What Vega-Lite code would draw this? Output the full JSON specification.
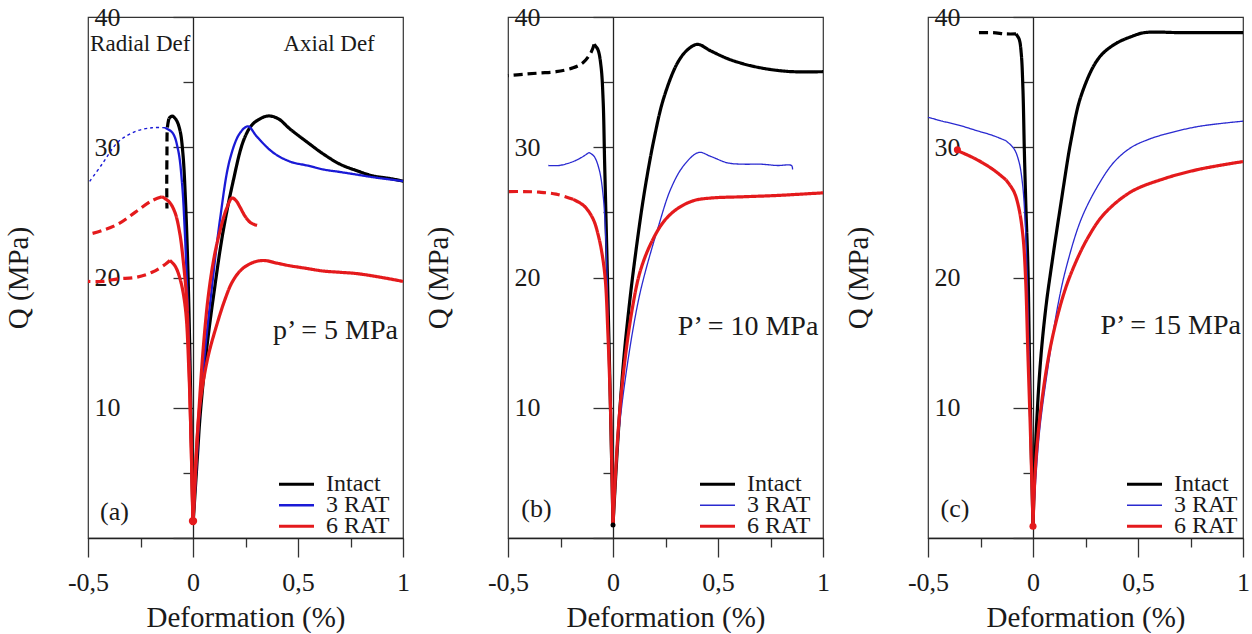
{
  "$schema": "https://vega.github.io/schema/vega-lite/v6.json",
  "padding": {"left": 3, "top": 3, "right": 5, "bottom": 0},
  "datasets": {
    "a": [
      {"s":"Intact","g":"I-ax","part":"axial","x":0,"q":1},{"s":"Intact","g":"I-ax","part":"axial","x":0.02,"q":6},{"s":"Intact","g":"I-ax","part":"axial","x":0.035,"q":9.6},{"s":"Intact","g":"I-ax","part":"axial","x":0.065,"q":14.5},{"s":"Intact","g":"I-ax","part":"axial","x":0.097,"q":18.5},{"s":"Intact","g":"I-ax","part":"axial","x":0.143,"q":23.5},{"s":"Intact","g":"I-ax","part":"axial","x":0.19,"q":27.3},{"s":"Intact","g":"I-ax","part":"axial","x":0.238,"q":30.4},{"s":"Intact","g":"I-ax","part":"axial","x":0.275,"q":31.6},{"s":"Intact","g":"I-ax","part":"axial","x":0.31,"q":32.1},{"s":"Intact","g":"I-ax","part":"axial","x":0.357,"q":32.4},{"s":"Intact","g":"I-ax","part":"axial","x":0.405,"q":32.2},{"s":"Intact","g":"I-ax","part":"axial","x":0.462,"q":31.4},{"s":"Intact","g":"I-ax","part":"axial","x":0.543,"q":30.4},{"s":"Intact","g":"I-ax","part":"axial","x":0.619,"q":29.5},{"s":"Intact","g":"I-ax","part":"axial","x":0.7,"q":28.7},{"s":"Intact","g":"I-ax","part":"axial","x":0.78,"q":28.2},{"s":"Intact","g":"I-ax","part":"axial","x":0.857,"q":27.8},{"s":"Intact","g":"I-ax","part":"axial","x":0.938,"q":27.6},{"s":"Intact","g":"I-ax","part":"axial","x":1,"q":27.4},
      {"s":"Intact","g":"I-r1","part":"near","x":0,"q":1},{"s":"Intact","g":"I-r1","part":"near","x":-0.008,"q":8},{"s":"Intact","g":"I-r1","part":"near","x":-0.016,"q":15},{"s":"Intact","g":"I-r1","part":"near","x":-0.025,"q":21},{"s":"Intact","g":"I-r1","part":"near","x":-0.036,"q":26},{"s":"Intact","g":"I-r1","part":"near","x":-0.048,"q":29.5},{"s":"Intact","g":"I-r1","part":"near","x":-0.062,"q":31.3},{"s":"Intact","g":"I-r1","part":"near","x":-0.08,"q":32.1},{"s":"Intact","g":"I-r1","part":"near","x":-0.1,"q":32.4},{"s":"Intact","g":"I-r1","part":"near","x":-0.115,"q":32.2},
      {"s":"Intact","g":"I-r2","part":"far","x":-0.115,"q":32.2},{"s":"Intact","g":"I-r2","part":"far","x":-0.122,"q":31.5},{"s":"Intact","g":"I-r2","part":"far","x":-0.124,"q":29.5},{"s":"Intact","g":"I-r2","part":"far","x":-0.125,"q":27},{"s":"Intact","g":"I-r2","part":"far","x":-0.124,"q":25.3},
      {"s":"3 RAT","g":"B-ax","part":"axial","x":0,"q":1},{"s":"3 RAT","g":"B-ax","part":"axial","x":0.018,"q":6},{"s":"3 RAT","g":"B-ax","part":"axial","x":0.031,"q":9.6},{"s":"3 RAT","g":"B-ax","part":"axial","x":0.058,"q":14.5},{"s":"3 RAT","g":"B-ax","part":"axial","x":0.087,"q":18.8},{"s":"3 RAT","g":"B-ax","part":"axial","x":0.129,"q":24.5},{"s":"3 RAT","g":"B-ax","part":"axial","x":0.176,"q":29.1},{"s":"3 RAT","g":"B-ax","part":"axial","x":0.224,"q":31.1},{"s":"3 RAT","g":"B-ax","part":"axial","x":0.262,"q":31.6},{"s":"3 RAT","g":"B-ax","part":"axial","x":0.305,"q":30.8},{"s":"3 RAT","g":"B-ax","part":"axial","x":0.381,"q":29.6},{"s":"3 RAT","g":"B-ax","part":"axial","x":0.462,"q":28.9},{"s":"3 RAT","g":"B-ax","part":"axial","x":0.543,"q":28.6},{"s":"3 RAT","g":"B-ax","part":"axial","x":0.619,"q":28.3},{"s":"3 RAT","g":"B-ax","part":"axial","x":0.7,"q":28.1},{"s":"3 RAT","g":"B-ax","part":"axial","x":0.78,"q":27.9},{"s":"3 RAT","g":"B-ax","part":"axial","x":0.857,"q":27.7},{"s":"3 RAT","g":"B-ax","part":"axial","x":1,"q":27.4},
      {"s":"3 RAT","g":"B-r1","part":"near","x":0,"q":1},{"s":"3 RAT","g":"B-r1","part":"near","x":-0.01,"q":8},{"s":"3 RAT","g":"B-r1","part":"near","x":-0.02,"q":15},{"s":"3 RAT","g":"B-r1","part":"near","x":-0.03,"q":20},{"s":"3 RAT","g":"B-r1","part":"near","x":-0.039,"q":23.5},{"s":"3 RAT","g":"B-r1","part":"near","x":-0.052,"q":27.2},{"s":"3 RAT","g":"B-r1","part":"near","x":-0.071,"q":29.8},{"s":"3 RAT","g":"B-r1","part":"near","x":-0.097,"q":31.1},{"s":"3 RAT","g":"B-r1","part":"near","x":-0.133,"q":31.5},
      {"s":"3 RAT","g":"B-r2","part":"far","x":-0.133,"q":31.5},{"s":"3 RAT","g":"B-r2","part":"far","x":-0.195,"q":31.5},{"s":"3 RAT","g":"B-r2","part":"far","x":-0.276,"q":31.2},{"s":"3 RAT","g":"B-r2","part":"far","x":-0.357,"q":30.4},{"s":"3 RAT","g":"B-r2","part":"far","x":-0.433,"q":28.7},{"s":"3 RAT","g":"B-r2","part":"far","x":-0.5,"q":27.2},
      {"s":"6 RAT","g":"R1-ax","part":"axial","x":0,"q":1},{"s":"6 RAT","g":"R1-ax","part":"axial","x":0.015,"q":6},{"s":"6 RAT","g":"R1-ax","part":"axial","x":0.029,"q":10},{"s":"6 RAT","g":"R1-ax","part":"axial","x":0.05,"q":14.8},{"s":"6 RAT","g":"R1-ax","part":"axial","x":0.073,"q":18.6},{"s":"6 RAT","g":"R1-ax","part":"axial","x":0.1,"q":21.5},{"s":"6 RAT","g":"R1-ax","part":"axial","x":0.129,"q":23.6},{"s":"6 RAT","g":"R1-ax","part":"axial","x":0.16,"q":25.3},{"s":"6 RAT","g":"R1-ax","part":"axial","x":0.186,"q":26.1},{"s":"6 RAT","g":"R1-ax","part":"axial","x":0.205,"q":25.9},{"s":"6 RAT","g":"R1-ax","part":"axial","x":0.224,"q":25.4},{"s":"6 RAT","g":"R1-ax","part":"axial","x":0.248,"q":24.7},{"s":"6 RAT","g":"R1-ax","part":"axial","x":0.275,"q":24.2},{"s":"6 RAT","g":"R1-ax","part":"axial","x":0.305,"q":24},
      {"s":"6 RAT","g":"R1-r1","part":"near","x":0,"q":1},{"s":"6 RAT","g":"R1-r1","part":"near","x":-0.01,"q":8},{"s":"6 RAT","g":"R1-r1","part":"near","x":-0.02,"q":14},{"s":"6 RAT","g":"R1-r1","part":"near","x":-0.03,"q":18.3},{"s":"6 RAT","g":"R1-r1","part":"near","x":-0.046,"q":21.2},{"s":"6 RAT","g":"R1-r1","part":"near","x":-0.063,"q":23.4},{"s":"6 RAT","g":"R1-r1","part":"near","x":-0.086,"q":25},{"s":"6 RAT","g":"R1-r1","part":"near","x":-0.113,"q":25.8},{"s":"6 RAT","g":"R1-r1","part":"near","x":-0.148,"q":26.2},
      {"s":"6 RAT","g":"R1-r2","part":"far","x":-0.148,"q":26.2},{"s":"6 RAT","g":"R1-r2","part":"far","x":-0.195,"q":25.9},{"s":"6 RAT","g":"R1-r2","part":"far","x":-0.276,"q":25},{"s":"6 RAT","g":"R1-r2","part":"far","x":-0.357,"q":24.1},{"s":"6 RAT","g":"R1-r2","part":"far","x":-0.433,"q":23.6},{"s":"6 RAT","g":"R1-r2","part":"far","x":-0.5,"q":23.3},
      {"s":"6 RAT","g":"R2-ax","part":"axial","x":0,"q":1},{"s":"6 RAT","g":"R2-ax","part":"axial","x":0.012,"q":5.5},{"s":"6 RAT","g":"R2-ax","part":"axial","x":0.033,"q":10.2},{"s":"6 RAT","g":"R2-ax","part":"axial","x":0.07,"q":13.8},{"s":"6 RAT","g":"R2-ax","part":"axial","x":0.114,"q":16.4},{"s":"6 RAT","g":"R2-ax","part":"axial","x":0.152,"q":18.3},{"s":"6 RAT","g":"R2-ax","part":"axial","x":0.185,"q":19.6},{"s":"6 RAT","g":"R2-ax","part":"axial","x":0.224,"q":20.5},{"s":"6 RAT","g":"R2-ax","part":"axial","x":0.265,"q":21},{"s":"6 RAT","g":"R2-ax","part":"axial","x":0.305,"q":21.25},{"s":"6 RAT","g":"R2-ax","part":"axial","x":0.343,"q":21.3},{"s":"6 RAT","g":"R2-ax","part":"axial","x":0.4,"q":21.1},{"s":"6 RAT","g":"R2-ax","part":"axial","x":0.462,"q":20.9},{"s":"6 RAT","g":"R2-ax","part":"axial","x":0.54,"q":20.7},{"s":"6 RAT","g":"R2-ax","part":"axial","x":0.619,"q":20.5},{"s":"6 RAT","g":"R2-ax","part":"axial","x":0.7,"q":20.4},{"s":"6 RAT","g":"R2-ax","part":"axial","x":0.78,"q":20.3},{"s":"6 RAT","g":"R2-ax","part":"axial","x":0.9,"q":20},{"s":"6 RAT","g":"R2-ax","part":"axial","x":1,"q":19.7},
      {"s":"6 RAT","g":"R2-r1","part":"near","x":0,"q":1},{"s":"6 RAT","g":"R2-r1","part":"near","x":-0.01,"q":8},{"s":"6 RAT","g":"R2-r1","part":"near","x":-0.02,"q":13},{"s":"6 RAT","g":"R2-r1","part":"near","x":-0.036,"q":17.6},{"s":"6 RAT","g":"R2-r1","part":"near","x":-0.06,"q":19.8},{"s":"6 RAT","g":"R2-r1","part":"near","x":-0.086,"q":20.9},{"s":"6 RAT","g":"R2-r1","part":"near","x":-0.11,"q":21.3},
      {"s":"6 RAT","g":"R2-r2","part":"far","x":-0.11,"q":21.3},{"s":"6 RAT","g":"R2-r2","part":"far","x":-0.133,"q":21},{"s":"6 RAT","g":"R2-r2","part":"far","x":-0.195,"q":20.4},{"s":"6 RAT","g":"R2-r2","part":"far","x":-0.276,"q":20},{"s":"6 RAT","g":"R2-r2","part":"far","x":-0.357,"q":19.9},{"s":"6 RAT","g":"R2-r2","part":"far","x":-0.433,"q":19.7},{"s":"6 RAT","g":"R2-r2","part":"far","x":-0.5,"q":19.7}
    ],
    "b": [
      {"s":"Intact","g":"I-ax","part":"axial","x":0,"q":1},{"s":"Intact","g":"I-ax","part":"axial","x":0.025,"q":8},{"s":"Intact","g":"I-ax","part":"axial","x":0.05,"q":13.5},{"s":"Intact","g":"I-ax","part":"axial","x":0.075,"q":17.5},{"s":"Intact","g":"I-ax","part":"axial","x":0.1,"q":20.9},{"s":"Intact","g":"I-ax","part":"axial","x":0.147,"q":26.3},{"s":"Intact","g":"I-ax","part":"axial","x":0.195,"q":30.6},{"s":"Intact","g":"I-ax","part":"axial","x":0.242,"q":33.8},{"s":"Intact","g":"I-ax","part":"axial","x":0.308,"q":36.5},{"s":"Intact","g":"I-ax","part":"axial","x":0.356,"q":37.5},{"s":"Intact","g":"I-ax","part":"axial","x":0.403,"q":37.9},{"s":"Intact","g":"I-ax","part":"axial","x":0.465,"q":37.4},{"s":"Intact","g":"I-ax","part":"axial","x":0.546,"q":36.8},{"s":"Intact","g":"I-ax","part":"axial","x":0.622,"q":36.4},{"s":"Intact","g":"I-ax","part":"axial","x":0.702,"q":36.1},{"s":"Intact","g":"I-ax","part":"axial","x":0.783,"q":35.9},{"s":"Intact","g":"I-ax","part":"axial","x":0.859,"q":35.8},{"s":"Intact","g":"I-ax","part":"axial","x":1,"q":35.8},
      {"s":"Intact","g":"I-r1","part":"near","x":0,"q":1},{"s":"Intact","g":"I-r1","part":"near","x":-0.012,"q":10},{"s":"Intact","g":"I-r1","part":"near","x":-0.022,"q":17},{"s":"Intact","g":"I-r1","part":"near","x":-0.032,"q":23.7},{"s":"Intact","g":"I-r1","part":"near","x":-0.04,"q":28.9},{"s":"Intact","g":"I-r1","part":"near","x":-0.047,"q":33.6},{"s":"Intact","g":"I-r1","part":"near","x":-0.057,"q":36.2},{"s":"Intact","g":"I-r1","part":"near","x":-0.072,"q":37.5},{"s":"Intact","g":"I-r1","part":"near","x":-0.09,"q":37.9},
      {"s":"Intact","g":"I-r2","part":"far","x":-0.09,"q":37.9},{"s":"Intact","g":"I-r2","part":"far","x":-0.104,"q":37.3},{"s":"Intact","g":"I-r2","part":"far","x":-0.142,"q":36.5},{"s":"Intact","g":"I-r2","part":"far","x":-0.19,"q":36.1},{"s":"Intact","g":"I-r2","part":"far","x":-0.271,"q":35.8},{"s":"Intact","g":"I-r2","part":"far","x":-0.351,"q":35.7},{"s":"Intact","g":"I-r2","part":"far","x":-0.427,"q":35.6},{"s":"Intact","g":"I-r2","part":"far","x":-0.5,"q":35.5},
      {"s":"3 RAT","g":"B-ax","part":"axial","x":0,"q":1},{"s":"3 RAT","g":"B-ax","part":"axial","x":0.028,"q":8.1},{"s":"3 RAT","g":"B-ax","part":"axial","x":0.071,"q":13.6},{"s":"3 RAT","g":"B-ax","part":"axial","x":0.118,"q":18},{"s":"3 RAT","g":"B-ax","part":"axial","x":0.15,"q":20.2},{"s":"3 RAT","g":"B-ax","part":"axial","x":0.214,"q":23.8},{"s":"3 RAT","g":"B-ax","part":"axial","x":0.275,"q":26.8},{"s":"3 RAT","g":"B-ax","part":"axial","x":0.337,"q":28.6},{"s":"3 RAT","g":"B-ax","part":"axial","x":0.408,"q":29.6},{"s":"3 RAT","g":"B-ax","part":"axial","x":0.465,"q":29.3},{"s":"3 RAT","g":"B-ax","part":"axial","x":0.546,"q":28.8},{"s":"3 RAT","g":"B-ax","part":"axial","x":0.622,"q":28.7},{"s":"3 RAT","g":"B-ax","part":"axial","x":0.702,"q":28.7},{"s":"3 RAT","g":"B-ax","part":"axial","x":0.783,"q":28.6},{"s":"3 RAT","g":"B-ax","part":"axial","x":0.85,"q":28.6},{"s":"3 RAT","g":"B-ax","part":"axial","x":0.855,"q":28.3},
      {"s":"3 RAT","g":"B-r1","part":"near","x":0,"q":1},{"s":"3 RAT","g":"B-r1","part":"near","x":-0.012,"q":10},{"s":"3 RAT","g":"B-r1","part":"near","x":-0.022,"q":16},{"s":"3 RAT","g":"B-r1","part":"near","x":-0.033,"q":22.4},{"s":"3 RAT","g":"B-r1","part":"near","x":-0.047,"q":26.3},{"s":"3 RAT","g":"B-r1","part":"near","x":-0.066,"q":28.3},{"s":"3 RAT","g":"B-r1","part":"near","x":-0.09,"q":29.3},{"s":"3 RAT","g":"B-r1","part":"near","x":-0.114,"q":29.6},
      {"s":"3 RAT","g":"B-r2","part":"far","x":-0.114,"q":29.6},{"s":"3 RAT","g":"B-r2","part":"far","x":-0.152,"q":29.2},{"s":"3 RAT","g":"B-r2","part":"far","x":-0.19,"q":28.9},{"s":"3 RAT","g":"B-r2","part":"far","x":-0.256,"q":28.6},{"s":"3 RAT","g":"B-r2","part":"far","x":-0.308,"q":28.6},
      {"s":"6 RAT","g":"R-ax","part":"axial","x":0,"q":1},{"s":"6 RAT","g":"R-ax","part":"axial","x":0.024,"q":8.1},{"s":"6 RAT","g":"R-ax","part":"axial","x":0.055,"q":13.4},{"s":"6 RAT","g":"R-ax","part":"axial","x":0.095,"q":17.9},{"s":"6 RAT","g":"R-ax","part":"axial","x":0.13,"q":20.5},{"s":"6 RAT","g":"R-ax","part":"axial","x":0.18,"q":22.6},{"s":"6 RAT","g":"R-ax","part":"axial","x":0.242,"q":24.3},{"s":"6 RAT","g":"R-ax","part":"axial","x":0.308,"q":25.3},{"s":"6 RAT","g":"R-ax","part":"axial","x":0.384,"q":25.9},{"s":"6 RAT","g":"R-ax","part":"axial","x":0.465,"q":26.1},{"s":"6 RAT","g":"R-ax","part":"axial","x":0.622,"q":26.2},{"s":"6 RAT","g":"R-ax","part":"axial","x":0.783,"q":26.3},{"s":"6 RAT","g":"R-ax","part":"axial","x":1,"q":26.5},
      {"s":"6 RAT","g":"R-r1","part":"near","x":0,"q":1},{"s":"6 RAT","g":"R-r1","part":"near","x":-0.012,"q":10},{"s":"6 RAT","g":"R-r1","part":"near","x":-0.025,"q":16},{"s":"6 RAT","g":"R-r1","part":"near","x":-0.036,"q":19.7},{"s":"6 RAT","g":"R-r1","part":"near","x":-0.049,"q":21.5},{"s":"6 RAT","g":"R-r1","part":"near","x":-0.068,"q":23.1},{"s":"6 RAT","g":"R-r1","part":"near","x":-0.095,"q":24.5},{"s":"6 RAT","g":"R-r1","part":"near","x":-0.138,"q":25.5},{"s":"6 RAT","g":"R-r1","part":"near","x":-0.19,"q":26},
      {"s":"6 RAT","g":"R-r2","part":"far","x":-0.19,"q":26},{"s":"6 RAT","g":"R-r2","part":"far","x":-0.271,"q":26.4},{"s":"6 RAT","g":"R-r2","part":"far","x":-0.351,"q":26.55},{"s":"6 RAT","g":"R-r2","part":"far","x":-0.427,"q":26.6},{"s":"6 RAT","g":"R-r2","part":"far","x":-0.5,"q":26.6}
    ],
    "c": [
      {"s":"Intact","g":"I-ax","part":"axial","x":0,"q":1},{"s":"Intact","g":"I-ax","part":"axial","x":0.015,"q":8},{"s":"Intact","g":"I-ax","part":"axial","x":0.036,"q":13.6},{"s":"Intact","g":"I-ax","part":"axial","x":0.062,"q":17.8},{"s":"Intact","g":"I-ax","part":"axial","x":0.092,"q":21.3},{"s":"Intact","g":"I-ax","part":"axial","x":0.134,"q":25.8},{"s":"Intact","g":"I-ax","part":"axial","x":0.182,"q":30.6},{"s":"Intact","g":"I-ax","part":"axial","x":0.23,"q":34},{"s":"Intact","g":"I-ax","part":"axial","x":0.311,"q":36.8},{"s":"Intact","g":"I-ax","part":"axial","x":0.388,"q":37.9},{"s":"Intact","g":"I-ax","part":"axial","x":0.469,"q":38.5},{"s":"Intact","g":"I-ax","part":"axial","x":0.531,"q":38.8},{"s":"Intact","g":"I-ax","part":"axial","x":0.708,"q":38.8},{"s":"Intact","g":"I-ax","part":"axial","x":1,"q":38.8},
      {"s":"Intact","g":"I-r1","part":"near","x":0,"q":1},{"s":"Intact","g":"I-r1","part":"near","x":-0.01,"q":8},{"s":"Intact","g":"I-r1","part":"near","x":-0.017,"q":14},{"s":"Intact","g":"I-r1","part":"near","x":-0.024,"q":20.7},{"s":"Intact","g":"I-r1","part":"near","x":-0.033,"q":25},{"s":"Intact","g":"I-r1","part":"near","x":-0.041,"q":29.6},{"s":"Intact","g":"I-r1","part":"near","x":-0.048,"q":34.5},{"s":"Intact","g":"I-r1","part":"near","x":-0.056,"q":37.2},{"s":"Intact","g":"I-r1","part":"near","x":-0.066,"q":38.3},{"s":"Intact","g":"I-r1","part":"near","x":-0.081,"q":38.7},
      {"s":"Intact","g":"I-r2","part":"far","x":-0.081,"q":38.7},{"s":"Intact","g":"I-r2","part":"far","x":-0.129,"q":38.7},{"s":"Intact","g":"I-r2","part":"far","x":-0.191,"q":38.8},{"s":"Intact","g":"I-r2","part":"far","x":-0.258,"q":38.8},
      {"s":"3 RAT","g":"B-ax","part":"axial","x":0,"q":1},{"s":"3 RAT","g":"B-ax","part":"axial","x":0.03,"q":8},{"s":"3 RAT","g":"B-ax","part":"axial","x":0.075,"q":13.5},{"s":"3 RAT","g":"B-ax","part":"axial","x":0.12,"q":18},{"s":"3 RAT","g":"B-ax","part":"axial","x":0.162,"q":21},{"s":"3 RAT","g":"B-ax","part":"axial","x":0.23,"q":24.5},{"s":"3 RAT","g":"B-ax","part":"axial","x":0.311,"q":27.1},{"s":"3 RAT","g":"B-ax","part":"axial","x":0.388,"q":28.9},{"s":"3 RAT","g":"B-ax","part":"axial","x":0.469,"q":30},{"s":"3 RAT","g":"B-ax","part":"axial","x":0.55,"q":30.6},{"s":"3 RAT","g":"B-ax","part":"axial","x":0.627,"q":31},{"s":"3 RAT","g":"B-ax","part":"axial","x":0.789,"q":31.6},{"s":"3 RAT","g":"B-ax","part":"axial","x":1,"q":32},
      {"s":"3 RAT","g":"B-r1","part":"near","x":0,"q":1},{"s":"3 RAT","g":"B-r1","part":"near","x":-0.01,"q":8},{"s":"3 RAT","g":"B-r1","part":"near","x":-0.02,"q":15},{"s":"3 RAT","g":"B-r1","part":"near","x":-0.029,"q":20.7},{"s":"3 RAT","g":"B-r1","part":"near","x":-0.038,"q":24.5},{"s":"3 RAT","g":"B-r1","part":"near","x":-0.05,"q":27.2},{"s":"3 RAT","g":"B-r1","part":"near","x":-0.067,"q":28.9},{"s":"3 RAT","g":"B-r1","part":"near","x":-0.091,"q":29.9},{"s":"3 RAT","g":"B-r1","part":"near","x":-0.129,"q":30.5},
      {"s":"3 RAT","g":"B-r2","part":"far","x":-0.129,"q":30.5},{"s":"3 RAT","g":"B-r2","part":"far","x":-0.191,"q":30.9},{"s":"3 RAT","g":"B-r2","part":"far","x":-0.273,"q":31.3},{"s":"3 RAT","g":"B-r2","part":"far","x":-0.354,"q":31.7},{"s":"3 RAT","g":"B-r2","part":"far","x":-0.431,"q":32},{"s":"3 RAT","g":"B-r2","part":"far","x":-0.5,"q":32.3},
      {"s":"6 RAT","g":"R-ax","part":"axial","x":0,"q":1},{"s":"6 RAT","g":"R-ax","part":"axial","x":0.012,"q":5.5},{"s":"6 RAT","g":"R-ax","part":"axial","x":0.035,"q":9.6},{"s":"6 RAT","g":"R-ax","part":"axial","x":0.081,"q":14.5},{"s":"6 RAT","g":"R-ax","part":"axial","x":0.14,"q":18.4},{"s":"6 RAT","g":"R-ax","part":"axial","x":0.191,"q":20.7},{"s":"6 RAT","g":"R-ax","part":"axial","x":0.263,"q":23.1},{"s":"6 RAT","g":"R-ax","part":"axial","x":0.34,"q":24.9},{"s":"6 RAT","g":"R-ax","part":"axial","x":0.469,"q":26.6},{"s":"6 RAT","g":"R-ax","part":"axial","x":0.627,"q":27.6},{"s":"6 RAT","g":"R-ax","part":"axial","x":0.789,"q":28.3},{"s":"6 RAT","g":"R-ax","part":"axial","x":1,"q":28.9},
      {"s":"6 RAT","g":"R-r1","part":"near","x":0,"q":1},{"s":"6 RAT","g":"R-r1","part":"near","x":-0.012,"q":8},{"s":"6 RAT","g":"R-r1","part":"near","x":-0.024,"q":14},{"s":"6 RAT","g":"R-r1","part":"near","x":-0.036,"q":20.2},{"s":"6 RAT","g":"R-r1","part":"near","x":-0.048,"q":23.2},{"s":"6 RAT","g":"R-r1","part":"near","x":-0.067,"q":25.3},{"s":"6 RAT","g":"R-r1","part":"near","x":-0.091,"q":26.6},{"s":"6 RAT","g":"R-r1","part":"near","x":-0.129,"q":27.5},
      {"s":"6 RAT","g":"R-r2","part":"far","x":-0.129,"q":27.5},{"s":"6 RAT","g":"R-r2","part":"far","x":-0.191,"q":28.3},{"s":"6 RAT","g":"R-r2","part":"far","x":-0.273,"q":29.1},{"s":"6 RAT","g":"R-r2","part":"far","x":-0.354,"q":29.7}
    ],
    "pts": [
      {"panel":"a","s":"6 RAT","x":0,"q":1.3},
      {"panel":"b","s":"Intact","x":0,"q":1},
      {"panel":"c","s":"6 RAT","x":0,"q":0.9},
      {"panel":"c","s":"6 RAT","x":-0.36,"q":29.8}
    ]
  },
  "hconcat": [
    {
      "width": 315, "height": 521,
      "data": {"name": "a"},
      "layer": [
        {
          "mark": {"type": "line", "strokeJoin": "round", "strokeCap": "butt", "interpolate": "catmull-rom"},
          "encoding": {
            "x": {"field": "x", "type": "quantitative", "scale": {"domain": [-0.5, 1], "nice": false, "zero": false},
              "axis": {"values": [-0.5,-0.375,-0.25,-0.125,0,0.125,0.25,0.375,0.5,0.625,0.75,0.875,1], "labelExpr": "datum.value % 0.5 === 0 ? replace('' + datum.value, '.', ',') : ''", "tickSize": {"condition": {"test": "datum.value % 0.5 === 0", "value": 19}, "value": 9}, "title": "Deformation (%)", "labelPadding": 12, "titlePadding": 8}},
            "y": {"field": "q", "type": "quantitative", "scale": {"domain": [0, 40], "nice": false},
              "axis": {"values": [0,2.5,5,7.5,10,12.5,15,17.5,20,22.5,25,27.5,30,32.5,35,37.5,40], "offset": -105, "labelExpr": "datum.value % 10 === 0 && datum.value > 0 ? datum.label : ''", "tickSize": {"condition": {"test": "datum.value % 10 === 0", "value": 20}, "value": 10}, "labelPadding": 53, "title": "Q (MPa)", "titleX": -160}},
            "color": {"field": "s", "type": "nominal", "scale": {"domain": ["Intact","3 RAT","6 RAT"], "range": ["#000000","#1a1ad6","#e41a1c"]}, "legend": {"title": null, "symbolType": "stroke", "orient": "none", "legendX": 189, "legendY": 459}},
            "strokeWidth": {"condition": {"test": "datum.part === 'far' && datum.s === '3 RAT'", "value": 1.4}, "field": "s", "type": "nominal", "scale": {"type": "ordinal", "domain": ["Intact","3 RAT","6 RAT"], "range": [3.2, 2.3, 3.2]}, "legend": {"title": null, "symbolType": "stroke", "orient": "none", "legendX": 189, "legendY": 459}},
            "strokeDash": {"condition": [{"test": "datum.part === 'far' && datum.s === '3 RAT'", "value": [3, 3]}, {"test": "datum.part === 'far'", "value": [9, 5]}], "value": [1, 0]},
            "detail": {"field": "g"},
            "order": {"value": null}
          }
        },
        {
          "data": {"name": "pts"}, "transform": [{"filter": "datum.panel === 'a'"}],
          "mark": {"type": "circle", "size": 70, "opacity": 1, "color": "#e41a1c"},
          "encoding": {"x": {"field": "x", "type": "quantitative"}, "y": {"field": "q", "type": "quantitative"}}
        },
        {"data": {"values": [{}]}, "mark": {"type": "text", "align": "left", "baseline": "middle", "fontSize": 23}, "encoding": {"x": {"datum": -0.49}, "y": {"datum": 37.95}, "text": {"value": "Radial Def"}}},
        {"data": {"values": [{}]}, "mark": {"type": "text", "align": "center", "baseline": "middle", "fontSize": 23}, "encoding": {"x": {"datum": 0.648}, "y": {"datum": 37.95}, "text": {"value": "Axial Def"}}},
        {"data": {"values": [{}]}, "mark": {"type": "text", "align": "right", "baseline": "middle", "fontSize": 28}, "encoding": {"x": {"datum": 0.976}, "y": {"datum": 15.9}, "text": {"value": "p’ = 5 MPa"}}},
        {"data": {"values": [{}]}, "mark": {"type": "text", "align": "left", "baseline": "middle", "fontSize": 26}, "encoding": {"x": {"datum": -0.443}, "y": {"datum": 2.0}, "text": {"value": "(a)"}}}
      ]
    },
    {
      "width": 315, "height": 521,
      "data": {"name": "b"},
      "layer": [
        {
          "mark": {"type": "line", "strokeJoin": "round", "strokeCap": "butt", "interpolate": "catmull-rom"},
          "encoding": {
            "x": {"field": "x", "type": "quantitative", "scale": {"domain": [-0.5, 1], "nice": false, "zero": false},
              "axis": {"values": [-0.5,-0.375,-0.25,-0.125,0,0.125,0.25,0.375,0.5,0.625,0.75,0.875,1], "labelExpr": "datum.value % 0.5 === 0 ? replace('' + datum.value, '.', ',') : ''", "tickSize": {"condition": {"test": "datum.value % 0.5 === 0", "value": 19}, "value": 9}, "title": "Deformation (%)", "labelPadding": 12, "titlePadding": 8}},
            "y": {"field": "q", "type": "quantitative", "scale": {"domain": [0, 40], "nice": false},
              "axis": {"values": [0,2.5,5,7.5,10,12.5,15,17.5,20,22.5,25,27.5,30,32.5,35,37.5,40], "offset": -105, "labelExpr": "datum.value % 10 === 0 && datum.value > 0 ? datum.label : ''", "tickSize": {"condition": {"test": "datum.value % 10 === 0", "value": 20}, "value": 10}, "labelPadding": 53, "title": "Q (MPa)", "titleX": -160}},
            "color": {"field": "s", "type": "nominal", "scale": {"domain": ["Intact","3 RAT","6 RAT"], "range": ["#000000","#2a2ad0","#e41a1c"]}, "legend": {"title": null, "symbolType": "stroke", "orient": "none", "legendX": 190, "legendY": 459}},
            "strokeWidth": {"field": "s", "type": "nominal", "scale": {"type": "ordinal", "domain": ["Intact","3 RAT","6 RAT"], "range": [3.2, 1.3, 3.2]}, "legend": {"title": null, "symbolType": "stroke", "orient": "none", "legendX": 190, "legendY": 459}},
            "strokeDash": {"condition": {"test": "datum.part === 'far' && datum.s !== '3 RAT'", "value": [9, 5]}, "value": [1, 0]},
            "detail": {"field": "g"},
            "order": {"value": null}
          }
        },
        {
          "data": {"name": "pts"}, "transform": [{"filter": "datum.panel === 'b'"}],
          "mark": {"type": "circle", "size": 25, "opacity": 1, "color": "#000000"},
          "encoding": {"x": {"field": "x", "type": "quantitative"}, "y": {"field": "q", "type": "quantitative"}}
        },
        {"data": {"values": [{}]}, "mark": {"type": "text", "align": "right", "baseline": "middle", "fontSize": 28}, "encoding": {"x": {"datum": 0.978}, "y": {"datum": 16.2}, "text": {"value": "P’ = 10 MPa"}}},
        {"data": {"values": [{}]}, "mark": {"type": "text", "align": "left", "baseline": "middle", "fontSize": 26}, "encoding": {"x": {"datum": -0.437}, "y": {"datum": 2.2}, "text": {"value": "(b)"}}}
      ]
    },
    {
      "width": 315, "height": 521,
      "data": {"name": "c"},
      "layer": [
        {
          "mark": {"type": "line", "strokeJoin": "round", "strokeCap": "butt", "interpolate": "catmull-rom"},
          "encoding": {
            "x": {"field": "x", "type": "quantitative", "scale": {"domain": [-0.5, 1], "nice": false, "zero": false},
              "axis": {"values": [-0.5,-0.375,-0.25,-0.125,0,0.125,0.25,0.375,0.5,0.625,0.75,0.875,1], "labelExpr": "datum.value % 0.5 === 0 ? replace('' + datum.value, '.', ',') : ''", "tickSize": {"condition": {"test": "datum.value % 0.5 === 0", "value": 19}, "value": 9}, "title": "Deformation (%)", "labelPadding": 12, "titlePadding": 8}},
            "y": {"field": "q", "type": "quantitative", "scale": {"domain": [0, 40], "nice": false},
              "axis": {"values": [0,2.5,5,7.5,10,12.5,15,17.5,20,22.5,25,27.5,30,32.5,35,37.5,40], "offset": -105, "labelExpr": "datum.value % 10 === 0 && datum.value > 0 ? datum.label : ''", "tickSize": {"condition": {"test": "datum.value % 10 === 0", "value": 20}, "value": 10}, "labelPadding": 53, "title": "Q (MPa)", "titleX": -160}},
            "color": {"field": "s", "type": "nominal", "scale": {"domain": ["Intact","3 RAT","6 RAT"], "range": ["#000000","#2a2ad0","#e41a1c"]}, "legend": {"title": null, "symbolType": "stroke", "orient": "none", "legendX": 197, "legendY": 459}},
            "strokeWidth": {"field": "s", "type": "nominal", "scale": {"type": "ordinal", "domain": ["Intact","3 RAT","6 RAT"], "range": [3.2, 1.3, 3.2]}, "legend": {"title": null, "symbolType": "stroke", "orient": "none", "legendX": 197, "legendY": 459}},
            "strokeDash": {"condition": {"test": "datum.part === 'far' && datum.s === 'Intact'", "value": [9, 5]}, "value": [1, 0]},
            "detail": {"field": "g"},
            "order": {"value": null}
          }
        },
        {
          "data": {"name": "pts"}, "transform": [{"filter": "datum.panel === 'c'"}],
          "mark": {"type": "circle", "size": 50, "opacity": 1, "color": "#e41a1c"},
          "encoding": {"x": {"field": "x", "type": "quantitative"}, "y": {"field": "q", "type": "quantitative"}}
        },
        {"data": {"values": [{}]}, "mark": {"type": "text", "align": "right", "baseline": "middle", "fontSize": 28}, "encoding": {"x": {"datum": 0.99}, "y": {"datum": 16.3}, "text": {"value": "P’ = 15 MPa"}}},
        {"data": {"values": [{}]}, "mark": {"type": "text", "align": "left", "baseline": "middle", "fontSize": 26}, "encoding": {"x": {"datum": -0.44}, "y": {"datum": 2.2}, "text": {"value": "(c)"}}}
      ]
    }
  ],
  "bounds": "flush",
  "spacing": 105,
  "resolve": {"scale": {"color": "independent", "strokeWidth": "independent"}},
  "config": {
    "view": {"stroke": "#333333", "strokeWidth": 1.2},
    "font": "Liberation Serif, Times New Roman, serif",
    "text": {"font": "Liberation Serif, Times New Roman, serif", "color": "#1a1a1a"},
    "axis": {"grid": false, "domainColor": "#222222", "tickColor": "#333333", "labelColor": "#1a1a1a", "titleColor": "#1a1a1a", "labelFont": "Liberation Serif, Times New Roman, serif", "titleFont": "Liberation Serif, Times New Roman, serif", "titleFontWeight": "normal", "labelFontSize": 26, "titleFontSize": 29, "domainWidth": 1.3, "tickWidth": 1.3, "labelFlush": false, "labelOverlap": false},
    "legend": {"symbolType": "stroke", "symbolSize": 1225, "labelFont": "Liberation Serif, Times New Roman, serif", "labelFontSize": 24, "labelColor": "#1a1a1a", "rowPadding": -7.5, "clipHeight": 16.5, "labelOffset": 10, "padding": 0}
  }
}
